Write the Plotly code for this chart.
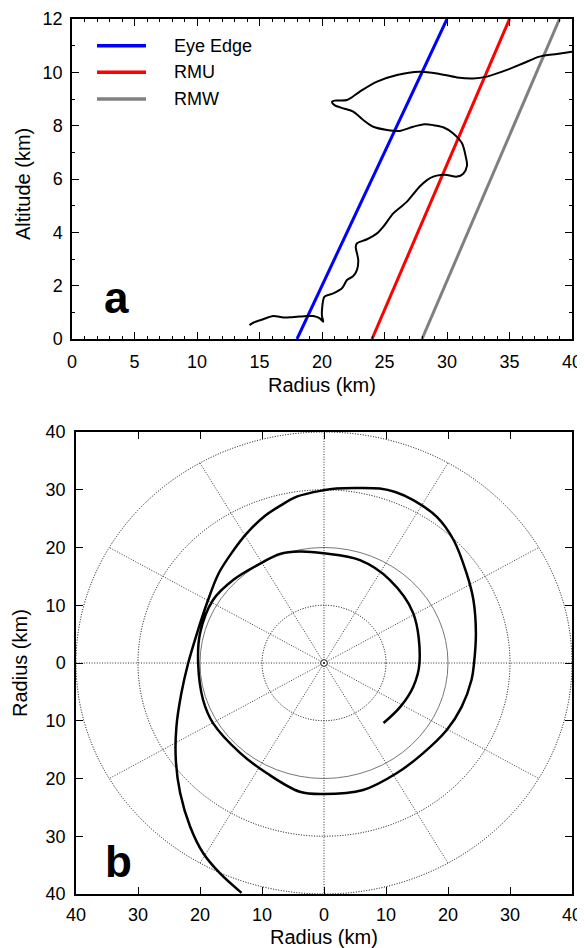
import plotly.graph_objects as go
import numpy as np

# ---------------- Panel a data ----------------
radius_a = [14.2, 14.5, 15.3, 16.1, 16.9, 17.6, 18.2, 18.8, 19.3, 19.8, 20.1, 20.0, 20.0, 20.2, 20.9,
            21.6, 22.0, 22.5, 22.8, 22.9, 22.7, 22.8, 23.6, 24.4, 24.9, 25.7, 26.3, 26.8, 27.8, 28.4,
            28.9, 29.5, 30.0, 30.8, 31.3, 31.6, 31.5, 31.2, 30.5, 29.7, 28.9, 28.2, 27.3, 26.2, 25.2,
            24.1, 23.3, 22.5, 21.7, 21.0, 20.8, 21.0, 22.0, 23.0, 24.4, 26.0, 27.8, 29.2, 30.8, 32.1,
            33.2, 34.8, 36.1, 37.4, 38.8, 40.0]
altitude_a = [0.52, 0.61, 0.74, 0.86, 0.81, 0.82, 0.84, 0.86, 0.86, 0.78, 0.65, 0.85, 1.09, 1.59, 1.71,
              1.90, 2.21, 2.36, 2.59, 2.96, 3.46, 3.59, 3.74, 3.96, 4.21, 4.71, 4.95, 5.15, 5.71, 5.96,
              6.09, 6.15, 6.15, 6.09, 6.20, 6.50, 6.84, 7.34, 7.71, 7.94, 8.02, 8.05, 7.96, 7.80, 7.84,
              7.96, 8.21, 8.53, 8.65, 8.77, 8.90, 8.94, 8.96, 9.27, 9.65, 9.90, 10.02, 9.96, 9.81, 9.77,
              9.84, 10.09, 10.34, 10.59, 10.69, 10.77]

line_names = ["Eye Edge", "RMU", "RMW"]
line_colors = ["#0000ff", "#ff0000", "#808080"]
line_r_bottom = [18, 24, 28]
line_r_top = [30, 35, 39]
line_z = [0, 12]

# ---------------- Panel b data ----------------
traj_x = [-13.3, -16.8, -19.5, -21.6, -23.2, -23.9, -23.8, -23.0, -21.9, -20.5, -18.9, -17.0, -14.8,
          -12.5, -9.5, -7.1, -4.4, -0.1, 2.0, 5.0, 9.0, 11.5, 14.4, 18.2, 20.9, 23.0, 24.1, 24.5, 24.2,
          23.8, 22.2, 19.8, 16.0, 11.7, 6.3, -0.1, -3.9, -9.2, -13.5, -17.9, -19.5, -20.3, -20.0, -17.9,
          -14.6, -10.3, -7.1, -3.9, -0.1, 5.8, 10.6, 14.4, 15.4, 14.4, 12.3, 9.6]
traj_y = [-39.8, -36.4, -32.9, -28.3, -22.5, -16.8, -11.0, -5.2, 0.0, 5.1, 10.3, 15.5, 19.2,
          22.4, 25.5, 27.2, 28.8, 29.9, 30.2, 30.3, 30.2, 29.6, 28.2, 25.3, 21.3, 15.5, 10.9, 5.1, 0.0,
          -2.9, -7.6, -11.6, -15.6, -19.1, -22.0, -22.7, -22.3, -19.1, -15.6, -10.4, -6.4, 0.0, 5.1, 10.9,
          14.4, 17.2, 18.9, 19.3, 19.0, 17.8, 14.4, 8.6, 0.0, -4.1, -7.6, -10.4]

ring_radii = [10, 20, 30, 40]
ring_styles = ["dot", "solid", "dot", "dot"]
spoke_angles_deg = [0, 30, 60, 90, 120, 150, 180, 210, 240, 270, 300, 330]
b_tickvals = [-40, -30, -20, -10, 0, 10, 20, 30, 40]
b_ticktext = ["40", "30", "20", "10", "0", "10", "20", "30", "40"]

FONT = "Liberation Sans, Arial, Helvetica, sans-serif"
OFF = 8  # page body margin of the html page
W, H = 585 - OFF, 948 - OFF
# pixel geometry (in window pixels, converted to figure pixels)
ax_l, ax_r, ax_t, ax_b = 72 - OFF, 572 - OFF, 19 - OFF, 339 - OFF
bx_l, bx_r, bx_t, bx_b = 76 - OFF, 572 - OFF, 432 - OFF, 894 - OFF

fig = go.Figure()

# Panel a lines
for name, col, r0, r1 in zip(line_names, line_colors, line_r_bottom, line_r_top):
    fig.add_trace(go.Scatter(x=[r0, r1], y=line_z, mode="lines", name=name,
                             line=dict(color=col, width=3), xaxis="x", yaxis="y",
                             showlegend=False))
fig.add_trace(go.Scatter(x=radius_a, y=altitude_a, mode="lines",
                         line=dict(color="black", width=2, shape="spline", smoothing=0.8),
                         xaxis="x", yaxis="y", showlegend=False))

# Panel b trajectory
fig.add_trace(go.Scatter(x=traj_x, y=traj_y, mode="lines",
                         line=dict(color="black", width=2.5, shape="spline", smoothing=1.0),
                         xaxis="x2", yaxis="y2", showlegend=False))
# center marker
fig.add_trace(go.Scatter(x=[0], y=[0], mode="markers",
                         marker=dict(symbol="circle-open-dot", size=7, color="#444", line=dict(width=1)),
                         xaxis="x2", yaxis="y2", showlegend=False))

DOT = "1px,1.6px"
shapes = []
for r, st in zip(ring_radii, ring_styles):
    shapes.append(dict(type="circle", xref="x2", yref="y2", x0=-r, x1=r, y0=-r, y1=r,
                       line=dict(color="#777" if st == "solid" else "black", width=1,
                                 dash="solid" if st == "solid" else DOT),
                       layer="below"))
for a in spoke_angles_deg:
    th = np.deg2rad(a)
    shapes.append(dict(type="line", xref="x2", yref="y2", x0=0, y0=0,
                       x1=ring_radii[-1] * np.cos(th), y1=ring_radii[-1] * np.sin(th),
                       line=dict(color="#333", width=1, dash=DOT), layer="below"))

# legend for panel a (manual)
leg_y_px = [45.7 - OFF, 72.3 - OFF, 99.0 - OFF]
annotations = []
for name, col, ypx in zip(line_names, line_colors, leg_y_px):
    yd = (ax_b - ypx) / (ax_b - ax_t)
    shapes.append(dict(type="line", xref="x domain", yref="y domain",
                       x0=(97 - OFF - ax_l) / (ax_r - ax_l), x1=(146 - OFF - ax_l) / (ax_r - ax_l),
                       y0=yd, y1=yd, line=dict(color=col, width=3.5)))
    annotations.append(dict(xref="x domain", yref="y domain", x=(172 - OFF - ax_l) / (ax_r - ax_l), y=yd,
                            text=name, showarrow=False, xanchor="left", yanchor="middle",
                            font=dict(size=18, color="black", family=FONT)))

# panel labels
annotations.append(dict(xref="x domain", yref="y domain", x=(116 - OFF - ax_l) / (ax_r - ax_l),
                        y=(ax_b - (298 - OFF)) / (ax_b - ax_t), text="<b>a</b>", showarrow=False,
                        xanchor="center", yanchor="middle", font=dict(size=44, color="black", family=FONT)))
annotations.append(dict(xref="x2 domain", yref="y2 domain", x=(118 - OFF - bx_l) / (bx_r - bx_l),
                        y=(bx_b - (861 - OFF)) / (bx_b - bx_t), text="<b>b</b>", showarrow=False,
                        xanchor="center", yanchor="middle", font=dict(size=44, color="black", family=FONT)))

# axis titles (window pixel positions)
def title(text, xpx, ypx, angle=0):
    annotations.append(dict(xref="paper", yref="paper", x=(xpx - OFF) / W, y=1 - (ypx - OFF) / H, text=text,
                            showarrow=False, xanchor="center", yanchor="middle", textangle=angle,
                            font=dict(size=20, color="black", family=FONT)))

title("Radius (km)", 322, 385)
title("Altitude (km)", 23, 184, -90)
title("Radius (km)", 324, 937)
title("Radius (km)", 20, 663, -90)

common = dict(showline=True, linecolor="black", linewidth=1.5, mirror="ticks", ticks="inside",
              tickcolor="black", tickwidth=1.3, showgrid=False, zeroline=False, automargin=False,
              tickfont=dict(size=18, color="black", family=FONT))

fig.update_layout(
    template="none",
    width=W, height=H, margin=dict(l=0, r=0, t=0, b=0, pad=0, autoexpand=False),
    paper_bgcolor="white", plot_bgcolor="white",
    font=dict(family=FONT, color="black"),
    xaxis=dict(domain=[ax_l / W, ax_r / W], range=[0, 40], anchor="y", dtick=5, tick0=0, ticklen=7,
               minor=dict(dtick=1, ticklen=3.5, ticks="inside", tickcolor="black", tickwidth=1.2),
               ticklabelstandoff=6, **common),
    yaxis=dict(domain=[1 - ax_b / H, 1 - ax_t / H], range=[0, 12], anchor="x", dtick=2, tick0=0, ticklen=7,
               minor=dict(dtick=1, ticklen=3.5, ticks="inside", tickcolor="black", tickwidth=1.2),
               ticklabelstandoff=4, **common),
    xaxis2=dict(domain=[bx_l / W, bx_r / W], range=[-40, 40], anchor="y2", tickvals=b_tickvals,
                ticktext=b_ticktext, ticklen=7, ticklabelstandoff=4, **common),
    yaxis2=dict(domain=[1 - bx_b / H, 1 - bx_t / H], range=[-40, 40], anchor="x2", tickvals=b_tickvals,
                ticktext=b_ticktext, ticklen=7, ticklabelstandoff=5, **common),
    shapes=shapes, annotations=annotations, showlegend=False,
)

fig.write_html("out.html")
